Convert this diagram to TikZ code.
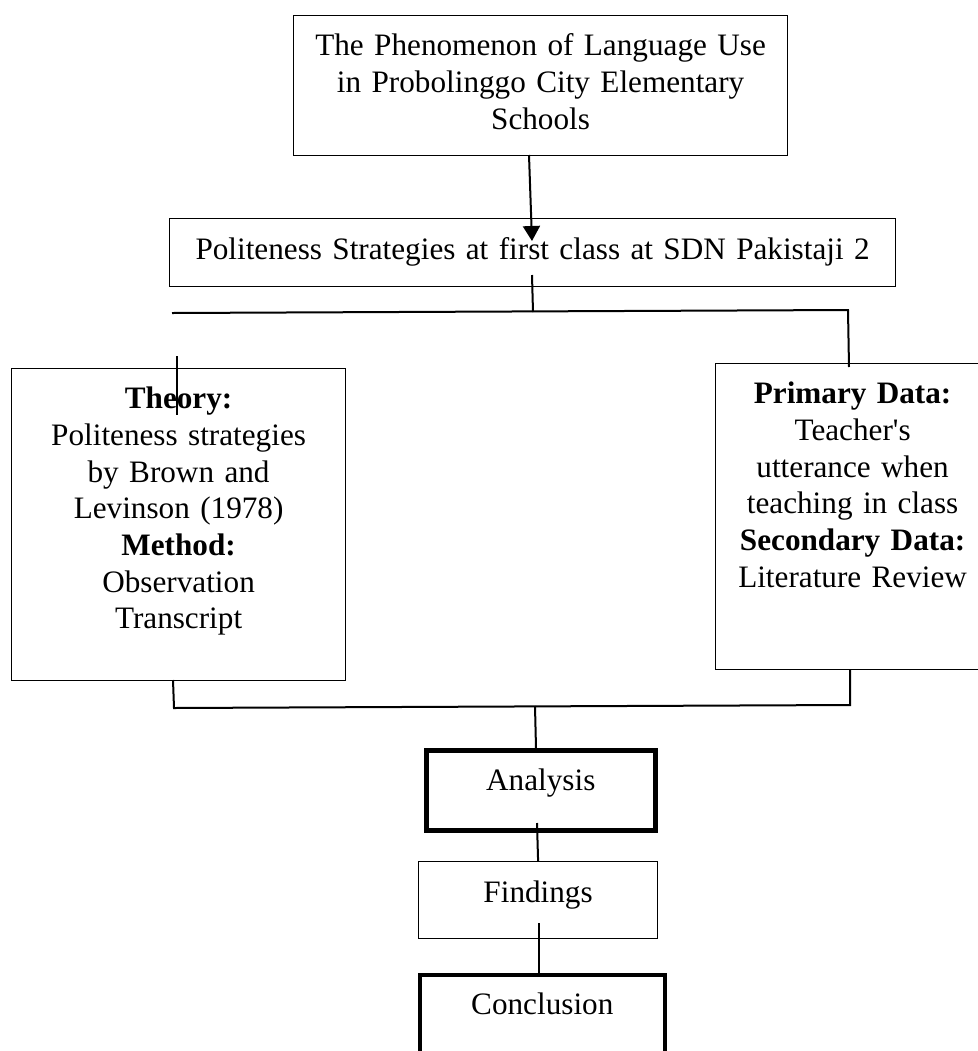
\documentclass[tikz,border=0pt]{standalone}
\usepackage{fontspec}
\setmainfont{Liberation Serif}
\usetikzlibrary{arrows.meta}

\begin{document}
\begin{tikzpicture}[
  x=0.5pt, y=-0.5pt,
  font=\fontsize{15.6}{18.35}\selectfont,
  box/.style={
    rectangle,
    draw=black,
    line width=0.6pt,
    anchor=north west,
    align=center,
    inner sep=0pt
  },
  heavy/.style={box, line width=2.3pt},
  link/.style={line width=1pt},
  arr/.style={link, -{Triangle[length=7.5pt,width=8.5pt]}}
]
\useasboundingbox (0,0) rectangle (978,1051);

\node[box, text width=247pt, text height=20pt, text depth=50pt] (phen) at (293,15) {
The Phenomenon of Language Use\\
in Probolinggo City Elementary\\
Schools
};

\node[box, text width=363pt, text height=20.5pt, text depth=13.5pt] (polite) at (169,218) {
Politeness Strategies at first class at SDN Pakistaji 2
};

\node[box, text width=167pt, text height=20pt, text depth=136pt] (theory) at (11,368) {
\textbf{Theory:}\\
Politeness strategies\\
by Brown and\\
Levinson (1978)\\
\textbf{Method:}\\
Observation\\
Transcript
};

\node[box, text width=137pt, text height=20pt, text depth=133pt] (data) at (715,363) {
\textbf{Primary Data:}\\
Teacher\textquotesingle s\\
utterance when\\
teaching in class\\
\textbf{Secondary Data:}\\
Literature Review
};

\node[heavy, text width=114.5pt, text height=20pt, text depth=20pt] (analysis) at (424,748) {Analysis};
\node[box, text width=119.5pt, text height=20.5pt, text depth=18pt] (findings) at (418,861) {Findings};
\node[heavy, text width=122.5pt, text height=20pt, text depth=31pt] (conclusion) at (417.5,972.5) {Conclusion};

% junction points
\coordinate (arrtop) at (529,155);
\coordinate (arrtip) at (532,241);
\coordinate (stem) at (532,275);
\coordinate (split) at (533,312);
\coordinate (splitl) at (172,313);
\coordinate (splitr) at (848,310);
\coordinate (dropl) at (177,356);
\coordinate (droplend) at (177,415);
\coordinate (dropr) at (849,367);
\coordinate (upl) at (173,680);
\coordinate (joinl) at (174,708);
\coordinate (upr) at (850,669);
\coordinate (joinr) at (850,705);
\coordinate (join) at (535,706);
\coordinate (joinend) at (536,748);
\coordinate (astem) at (537,823);
\coordinate (fstem) at (539,923);
\coordinate (cstem) at (539,975);

\draw[arr] (arrtop) -- (arrtip);
\draw[link] (stem) -- (split);
\draw[link] (splitl) -- (splitr) -- (dropr);
\draw[link] (dropl) -- (droplend);
\draw[link] (upl) -- (joinl) -- (joinr) -- (upr);
\draw[link] (join) -- (joinend);
\draw[link] (astem) -- (findings.north);
\draw[link] (fstem) -- (cstem);

\end{tikzpicture}
\end{document}
